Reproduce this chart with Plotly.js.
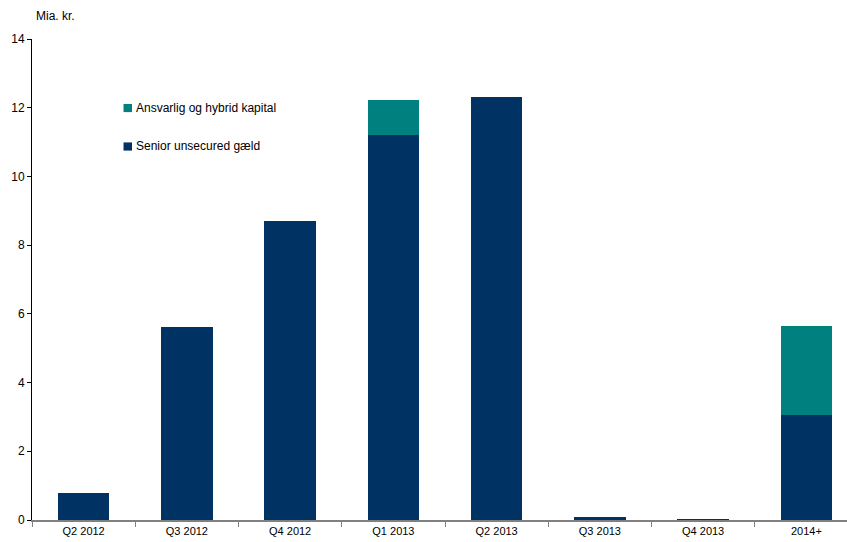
<!DOCTYPE html>
<html><head><meta charset="utf-8">
<script src="https://cdn.plot.ly/plotly-3.0.1.min.js"></script>
<style>html,body{margin:0;padding:0;background:#fff;overflow:hidden;width:847px;height:542px}#chart{width:858px;height:542px}</style>
</head><body><div id="chart"></div>
<script>
var categories = ["Q2 2012","Q3 2012","Q4 2012","Q1 2013","Q2 2013","Q3 2013","Q4 2013","2014+"];
var seniorValues = [0.78, 5.62, 8.69, 11.2, 12.3, 0.08, 0.03, 3.05];
var hybridValues = [0, 0, 0, 1.02, 0, 0, 0, 2.61];
var yTicks = [0, 2, 4, 6, 8, 10, 12, 14];
var seriesNames = ["Senior unsecured gæld", "Ansvarlig og hybrid kapital"];

var navy = "#003263", teal = "#00807F";
var traces = [
  {type:"bar", name:seriesNames[0], x:categories, y:seniorValues,
   marker:{color:navy, line:{width:0}}, width:0.5, showlegend:false},
  {type:"bar", name:seriesNames[1], x:categories, y:hybridValues,
   marker:{color:teal, line:{width:0}}, width:0.5, showlegend:false}
];
// Hand-drawn legend (small squares next to text, as in the reference)
var legendItems = [
  {name:seriesNames[1], color:teal, y0:0.848, y1:0.865, ty:0.857},
  {name:seriesNames[0], color:navy, y0:0.768, y1:0.785, ty:0.777}
];
var shapes = legendItems.map(function(it){
  return {type:"rect", xref:"paper", yref:"paper", x0:0.1108, x1:0.1211, y0:it.y0, y1:it.y1,
          fillcolor:it.color, line:{width:0}};
});
var annotations = legendItems.map(function(it){
  return {text:it.name, xref:"paper", yref:"paper", x:0.1235, y:it.ty, xanchor:"left", yanchor:"middle",
          showarrow:false, font:{size:12, color:"#000"}};
});
annotations.push({text:"Mia. kr.", xref:"paper", yref:"paper", x:0.003, y:1, yshift:14,
    xanchor:"left", yanchor:"bottom", showarrow:false, font:{size:12, color:"#000"}});

var layout = {
  width:858, height:542,
  margin:{l:32, r:0, t:39, b:22, pad:0},
  barmode:"stack",
  paper_bgcolor:"#fff", plot_bgcolor:"#fff",
  font:{family:"Liberation Sans, Arial, sans-serif", size:11, color:"#000"},
  showlegend:false,
  xaxis:{type:"category", showline:true, linecolor:"#808080", linewidth:1.5,
    ticks:"outside", ticklen:5, tickcolor:"#808080", tickson:"boundaries",
    showgrid:false, zeroline:false, tickfont:{size:11}, fixedrange:true},
  yaxis:{range:[0,14], tickvals:yTicks, showline:true, linecolor:"#000", linewidth:1,
    ticks:"outside", ticklen:4, tickcolor:"#000", showgrid:false, zeroline:false,
    tickfont:{size:12}, fixedrange:true},
  shapes:shapes,
  annotations:annotations
};
Plotly.newPlot("chart", traces, layout, {displayModeBar:false, staticPlot:true});
</script></body></html>
